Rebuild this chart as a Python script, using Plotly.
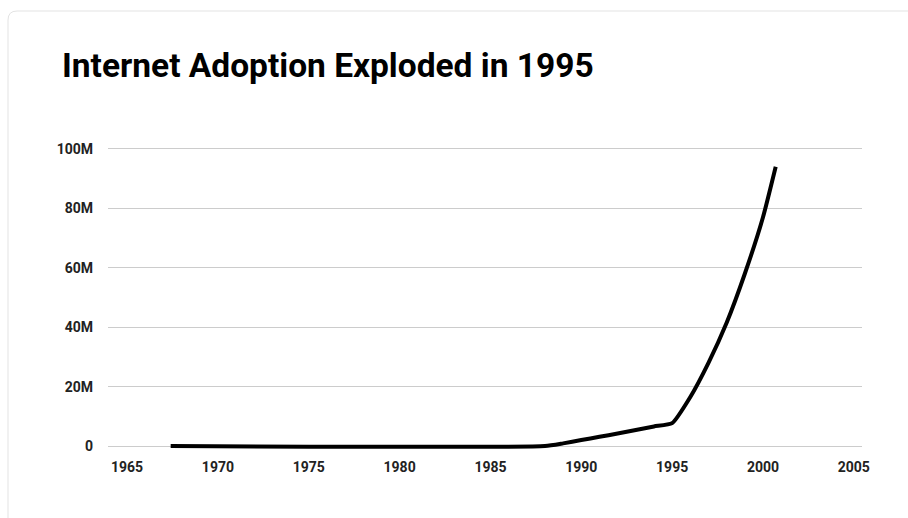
import plotly.graph_objects as go

# Internet users (millions) by year
years = [1967.4, 1988, 1989, 1990, 1991, 1992, 1993, 1994, 1995,
         1996, 1997, 1998, 1999, 2000, 2000.7]
users_m = [0, 0, 0.9, 2.0, 3.1, 4.2, 5.4, 6.6, 7.7,
           16.5, 28, 41.5, 58, 77, 94]

y_ticks = [0, 20e6, 40e6, 60e6, 80e6, 100e6]
y_tick_text = ["0", "20M", "40M", "60M", "80M", "100M"]
x_ticks = [1965, 1970, 1975, 1980, 1985, 1990, 1995, 2000, 2005]

W, H = 908, 518
ML, MR, MT, MB = 108, 46, 146, 69
PW, PH = W - ML - MR, H - MT - MB

fig = go.Figure()
fig.add_trace(go.Scatter(
    x=years,
    y=[v * 1e6 for v in users_m],
    mode="lines",
    line=dict(color="#000000", width=4, shape="spline", smoothing=0.5),
    hoverinfo="x+y",
))


def px_to_paper(px, py):
    return (px - ML) / PW, (H - MB - py) / PH


# light card outline with a rounded top-left corner
x0, y0 = px_to_paper(8, 11)
xr, _ = px_to_paper(8 + 9, 11)
_, yr = px_to_paper(8, 11 + 9)
x_far, _ = px_to_paper(W + 20, 11)
_, y_far = px_to_paper(8, H + 20)
card_path = (f"M {x0} {y_far} L {x0} {yr} Q {x0} {y0} {xr} {y0} "
             f"L {x_far} {y0}")
fig.add_shape(type="path", path=card_path, xref="paper", yref="paper",
              line=dict(color="#e3e3e3", width=1), layer="below")

fig.add_annotation(
    text="<b>Internet Adoption Exploded in 1995</b>",
    xref="paper", yref="paper",
    x=px_to_paper(60, 0)[0], y=px_to_paper(0, 44)[1],
    xanchor="left", yanchor="top", showarrow=False,
    font=dict(family="Roboto", size=33.5, color="#000000"),
)

fig.update_layout(
    width=W, height=H,
    margin=dict(l=ML, r=MR, t=MT, b=MB, pad=0),
    paper_bgcolor="#ffffff",
    plot_bgcolor="#ffffff",
    showlegend=False,
    font=dict(family="Roboto", color="#222222"),
    xaxis=dict(
        range=[1963.95, 2005.45],
        tickvals=x_ticks,
        ticktext=[f"<b>{t}</b>" for t in x_ticks],
        tickfont=dict(size=14, color="#222222"),
        showgrid=False, zeroline=False, showline=False,
        ticks="", ticklabelstandoff=8,
    ),
    yaxis=dict(
        range=[-1e6, 101e6],
        tickvals=y_ticks,
        ticktext=[f"<b>{t}</b>" for t in y_tick_text],
        tickfont=dict(size=14, color="#222222"),
        showgrid=True, gridcolor="#cccccc", gridwidth=1.3,
        zeroline=False, showline=False,
        ticks="", ticklabelstandoff=14,
    ),
)

fig.write_html("out.html")
